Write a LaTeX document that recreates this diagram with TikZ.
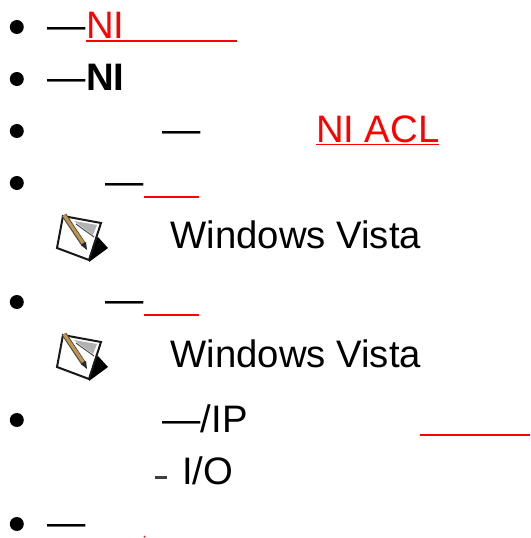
\documentclass[tikz,border=0pt]{standalone}
\usepackage{fontspec}
\setmainfont{Liberation Sans}
\definecolor{linkred}{RGB}{255,0,0}
\definecolor{penciltan}{RGB}{196,150,70}
\tikzset{
  lbl/.style={anchor=base west,inner sep=0pt,outer sep=0pt,font=\fontsize{38.3}{38.3}\selectfont},
  linklbl/.style={lbl,text=linkred},
  ulink/.style={draw=linkred,line width=1.6pt},
  dotb/.style={fill=black,draw=none},
}
\newcommand{\noteicon}[1]{%
\begin{scope}[shift={#1}]
  \fill[black] (33,50) -- (52,36) -- (42,25) -- (36,30) -- cycle;
  \draw[fill=white,draw=black!90,line width=2pt] (7,4) -- (45,11) -- (33,48) -- (1,36) -- cycle;
  \fill[black!30] (18,9) -- (41,13) -- (37,23) -- cycle;
  \draw[draw=black!70,line width=1pt] (20,12) -- (38,25);
  \draw[draw=black!70,line width=5pt] (8,3) -- (28,33);
  \draw[draw=penciltan,line width=3pt] (8,3) -- (27,31);
  \fill[black!85] (25,33) -- (30,30) -- (31,38) -- cycle;
\end{scope}}
\begin{document}
\begin{tikzpicture}[x=1pt,y=-1pt]
\useasboundingbox (0,0) rectangle (530,538);
% bullets
\foreach \n/\y in {b1/27,b2/79,b3/131,b4/183,b5/302,b6/420,b7/524}
  \fill[dotb] (16.8,\y) circle (7);
% row 1
\node[lbl] (d1) at (47.3,38) {—};
\node[linklbl] (t1) at (86,38) {NI};
\draw[ulink] (86,41) -- (237,41);
% row 2
\node[lbl] (d2) at (47.3,90) {—};
\node[lbl,font=\fontsize{38.3}{38.3}\selectfont\bfseries] (t2) at (86,90) {NI};
% row 3
\node[lbl] (d3) at (162.5,142) {—};
\node[linklbl] (t3) at (316,142) {\underline{NI ACL}};
% row 4
\node[lbl] (d4) at (105.3,194) {—};
\draw[ulink] (144,197) -- (199,197);
\noteicon{(56,212)}
\node[lbl] (t4) at (170.6,248) {Windows Vista};
% row 5
\node[lbl] (d5) at (105.3,312) {—};
\draw[ulink] (144,315) -- (199,315);
\noteicon{(56,331)}
\node[lbl] (t5) at (170.6,367) {Windows Vista};
% row 6
\node[lbl] (d6) at (162.5,432) {—/IP};
\draw[ulink] (420,435) -- (530,435);
\draw[draw=black!75,line width=2.4pt] (155,477.5) -- (167,477.5);
\node[lbl] (t6) at (182,484) {I/O};
% row 7
\node[lbl] (d7) at (47.3,535) {—};
\fill[linkred] (144.5,536.5) circle (1);
\end{tikzpicture}
\end{document}
